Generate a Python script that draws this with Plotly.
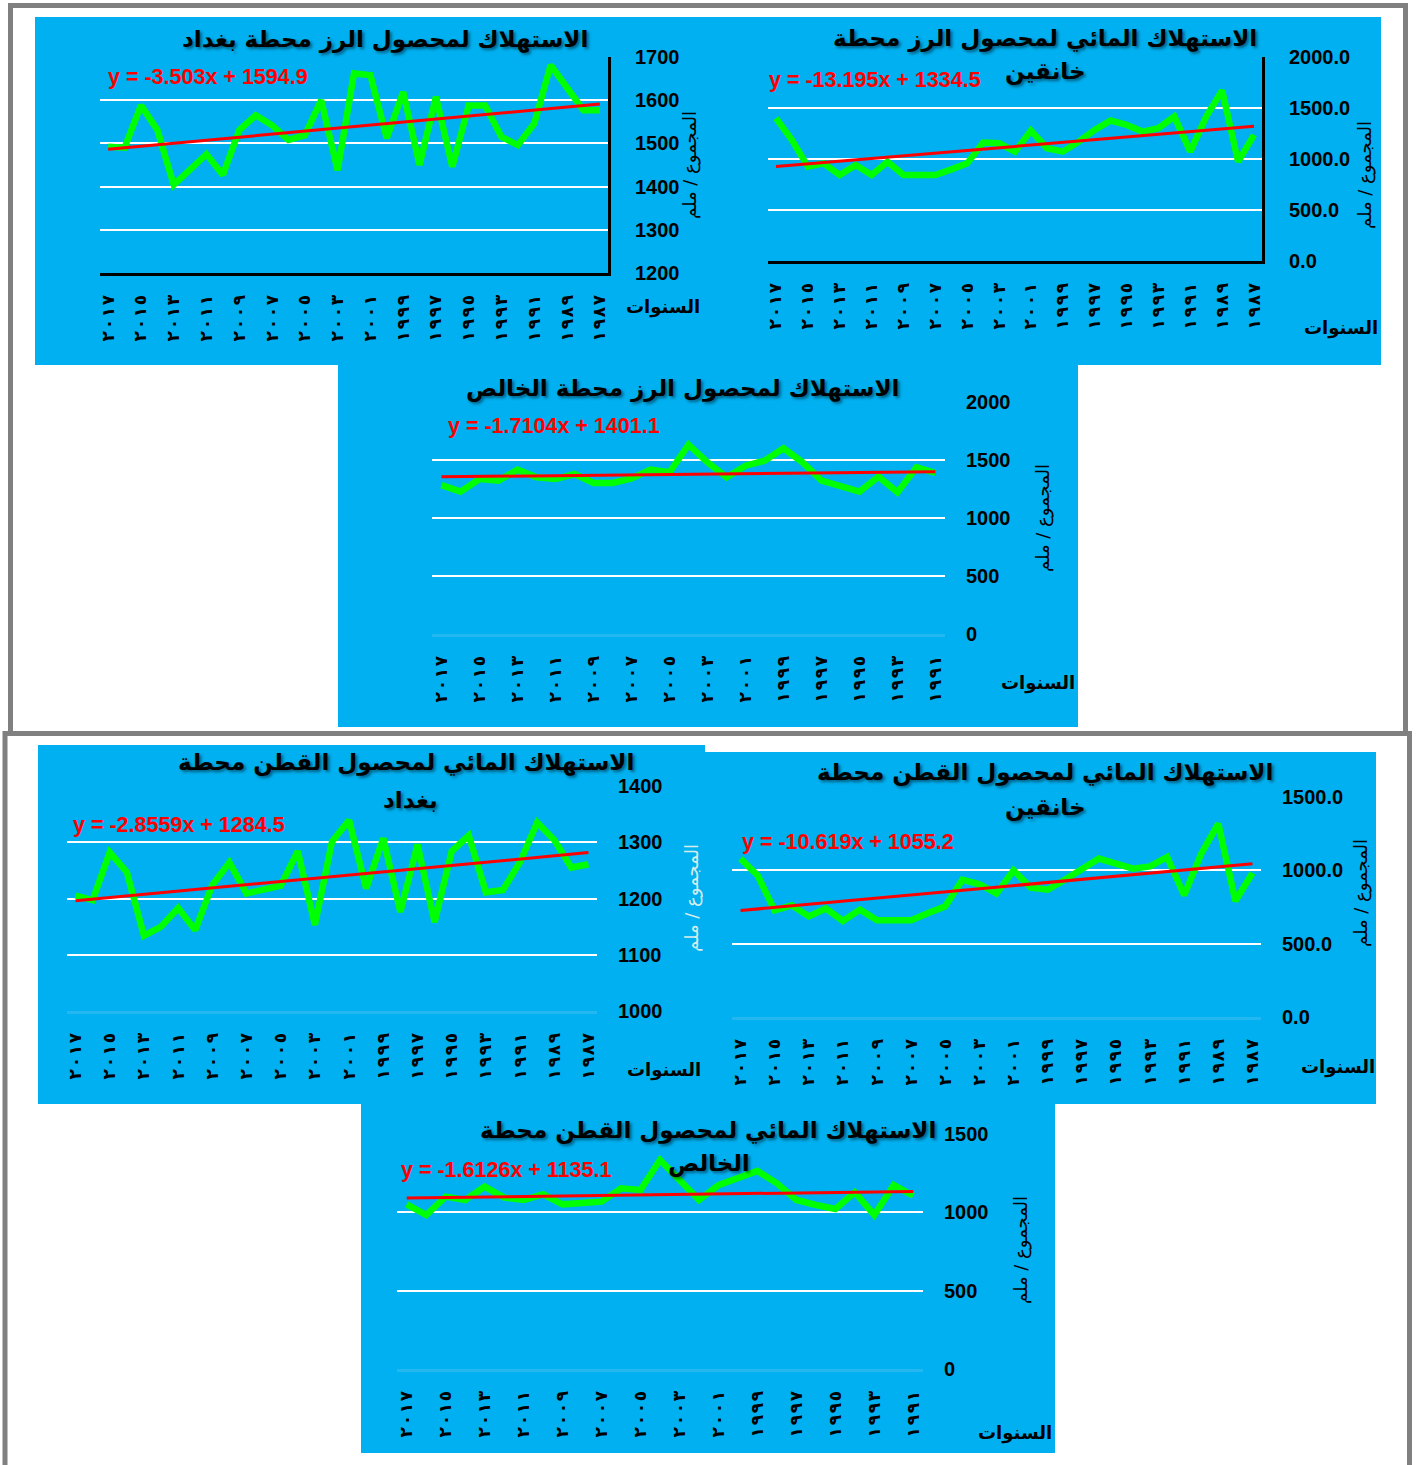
import plotly.graph_objects as go

W, H = 1416, 1465

# ---- categories (years, newest on the left) ----
years_31 = list(range(2017, 1986, -1))   # 2017 .. 1987
years_27 = list(range(2017, 1990, -1))   # 2017 .. 1991
tick_years_31 = list(range(2017, 1986, -2))
tick_years_27 = list(range(2017, 1990, -2))

# ---- water consumption series (mm), ordered 2017 -> first year ----
rice_baghdad = [1492, 1490, 1588, 1531, 1404, 1438, 1475, 1427, 1531, 1565, 1542,
                1508, 1519, 1600, 1438, 1662, 1658, 1512, 1619, 1450, 1608, 1446,
                1588, 1588, 1515, 1496, 1546, 1681, 1627, 1577, 1577]
rice_khanaqin = [1400, 1187, 925, 957, 843, 941, 843, 974, 843, 843, 843,
                 898, 957, 1161, 1154, 1072, 1279, 1105, 1072, 1170, 1285, 1377,
                 1334, 1269, 1302, 1416, 1072, 1416, 1672, 974, 1236]
rice_khalis = [1284, 1227, 1336, 1322, 1417, 1351, 1336, 1379, 1302, 1302, 1342,
               1417, 1394, 1632, 1480, 1351, 1451, 1494, 1601, 1480, 1322, 1273,
               1227, 1356, 1221, 1437, 1388]
cotton_baghdad = [1205, 1197, 1282, 1247, 1134, 1150, 1183, 1144, 1224, 1264, 1209,
                  1217, 1223, 1284, 1153, 1301, 1339, 1218, 1307, 1176, 1296, 1158,
                  1284, 1312, 1211, 1215, 1265, 1335, 1304, 1255, 1261]
cotton_khanaqin = [1080, 966, 727, 761, 686, 739, 655, 732, 659, 659, 659,
                   709, 755, 936, 905, 841, 1000, 882, 868, 936, 1005, 1080,
                   1045, 1011, 1027, 1091, 830, 1114, 1318, 791, 982]
cotton_khalis = [1051, 983, 1100, 1079, 1164, 1094, 1079, 1115, 1051, 1064, 1068,
                 1153, 1143, 1334, 1213, 1079, 1174, 1217, 1264, 1185, 1079, 1047,
                 1021, 1128, 983, 1174, 1106]

# ---- linear trend equations (x = 1 for the earliest year) ----
trend_rice_baghdad = (-3.503, 1594.9)
trend_rice_khanaqin = (-13.195, 1334.5)
trend_rice_khalis = (-1.7104, 1401.1)
trend_cotton_baghdad = (-2.8559, 1284.5)
trend_cotton_khanaqin = (-10.619, 1055.2)
trend_cotton_khalis = (-1.6126, 1135.1)

# ---- text ----
title_rice_baghdad = ["الاستهلاك لمحصول الرز محطة بغداد"]
title_rice_khanaqin = ["الاستهلاك المائي لمحصول الرز محطة", "خانقين"]
title_rice_khalis = ["الاستهلاك لمحصول الرز محطة الخالص"]
title_cotton_baghdad = ["الاستهلاك المائي لمحصول القطن محطة", "بغداد"]
title_cotton_khanaqin = ["الاستهلاك المائي لمحصول القطن محطة", "خانقين"]
title_cotton_khalis = ["الاستهلاك المائي لمحصول القطن محطة", "الخالص"]
y_title = "المجموع / ملم"
x_title = "السنوات"

ARABIC_DIGITS = str.maketrans("0123456789", "٠١٢٣٤٥٦٧٨٩")


def arabic_year(y):
    # Arabic-Indic digits, slightly spaced, kept in left-to-right order
    digits = str(y).translate(ARABIC_DIGITS)
    return "\u202D" + "\u200A".join(digits) + "\u202C"


BLUE = "#00B0F0"
GREEN = "#00FF00"
RED = "#FF0000"
FRAME = "#808080"
NUM_FONT = "Liberation Sans, Arial, sans-serif"
AR_FONT = "DejaVu Sans, sans-serif"

# layout of each chart: plot box in pixels (left, top, right, bottom)
panels = [
    dict(years=years_31, values=rice_baghdad, trend=trend_rice_baghdad, ticks=tick_years_31,
         box=(100, 57, 608, 273), yrange=(1200, 1700), dtick=100, fmt="d", dark_axes=True,
         title=title_rice_baghdad, title_xy=[(385, 40)], eq_xy=(106, 77),
         ytitle_xy=(690, 165), ytitle_color="black", xtitle_xy=(663, 307)),
    dict(years=years_31, values=rice_khanaqin, trend=trend_rice_khanaqin, ticks=tick_years_31,
         box=(768, 57, 1262, 261), yrange=(0, 2000), dtick=500, fmt=".1f", dark_axes=True,
         title=title_rice_khanaqin, title_xy=[(1045, 38), (1045, 72)], eq_xy=(767, 80),
         ytitle_xy=(1365, 175), ytitle_color="black", xtitle_xy=(1341, 328)),
    dict(years=years_27, values=rice_khalis, trend=trend_rice_khalis, ticks=tick_years_27,
         box=(432, 402, 945, 634), yrange=(0, 2000), dtick=500, fmt="d", dark_axes=False,
         title=title_rice_khalis, title_xy=[(682, 388)], eq_xy=(446, 426),
         ytitle_xy=(1043, 518), ytitle_color="black", xtitle_xy=(1038, 683)),
    dict(years=years_31, values=cotton_baghdad, trend=trend_cotton_baghdad, ticks=tick_years_31,
         box=(67, 786, 597, 1011), yrange=(1000, 1400), dtick=100, fmt="d", dark_axes=False,
         title=title_cotton_baghdad, title_xy=[(406, 762), (410, 800)], eq_xy=(71, 825),
         ytitle_xy=(692, 898), ytitle_color="#D6ECEC", xtitle_xy=(664, 1070)),
    dict(years=years_31, values=cotton_khanaqin, trend=trend_cotton_khanaqin, ticks=tick_years_31,
         box=(732, 797, 1261, 1017), yrange=(0, 1500), dtick=500, fmt=".1f", dark_axes=False,
         title=title_cotton_khanaqin, title_xy=[(1045, 773), (1045, 807)], eq_xy=(740, 842),
         ytitle_xy=(1361, 893), ytitle_color="black", xtitle_xy=(1338, 1067)),
    dict(years=years_27, values=cotton_khalis, trend=trend_cotton_khalis, ticks=tick_years_27,
         box=(397, 1134, 923, 1369), yrange=(0, 1500), dtick=500, fmt="d", dark_axes=False,
         title=title_cotton_khalis, title_xy=[(708, 1130), (709, 1163)], eq_xy=(399, 1170),
         ytitle_xy=(1021, 1250), ytitle_color="black", xtitle_xy=(1015, 1433)),
]


def px(x):
    return x / W


def py(y):
    return 1 - y / H


fig = go.Figure()
layout = dict(
    width=W, height=H,
    margin=dict(l=0, r=0, t=0, b=0, pad=0, autoexpand=False),
    paper_bgcolor="white", plot_bgcolor="rgba(0,0,0,0)",
    showlegend=False, shapes=[], annotations=[],
)

# blue chart areas
for (x0, y0, x1, y1) in [(35, 17, 1381, 365), (338, 365, 1078, 727),
                         (38, 745, 705, 1104), (705, 752, 1376, 1104),
                         (361, 1104, 1055, 1453)]:
    layout["shapes"].append(dict(type="rect", xref="paper", yref="paper",
                                 x0=px(x0), x1=px(x1), y0=py(y1), y1=py(y0),
                                 fillcolor=BLUE, line=dict(width=0), layer="below"))
# grey frames around the two groups
for (x0, y0, x1, y1) in [(10.5, 5.5, 1405.5, 733.5), (5, 733.5, 1409.5, 1470)]:
    layout["shapes"].append(dict(type="rect", xref="paper", yref="paper",
                                 x0=px(x0), x1=px(x1), y0=py(y1), y1=py(y0),
                                 fillcolor="rgba(0,0,0,0)", line=dict(color=FRAME, width=5),
                                 layer="below"))

title_font = dict(family=AR_FONT, size=23, color="black", weight="bold",
                  shadow="2px 2px 3px rgba(0,0,0,0.45)")

for i, p in enumerate(panels, start=1):
    sfx = "" if i == 1 else str(i)
    xa, ya = f"x{sfx}", f"y{sfx}"
    years = p["years"]
    first_year = years[-1]
    slope, intercept = p["trend"]
    trend_vals = [slope * (yr - first_year + 1) + intercept for yr in years]

    fig.add_trace(go.Scatter(x=years, y=p["values"], mode="lines", xaxis=xa, yaxis=ya,
                             line=dict(color=GREEN, width=6.5), hoverinfo="skip"))
    fig.add_trace(go.Scatter(x=years, y=trend_vals, mode="lines", xaxis=xa, yaxis=ya,
                             line=dict(color=RED, width=3), hoverinfo="skip"))

    x0, y0, x1, y1 = p["box"]
    axis_color = "black" if p["dark_axes"] else "#22B7F0"
    layout[f"xaxis{sfx}"] = dict(
        domain=[px(x0), px(x1)], anchor=ya, automargin=False,
        range=[years[0] + 0.5, years[-1] - 0.5],
        tickmode="array", tickvals=p["ticks"],
        ticktext=[arabic_year(t) for t in p["ticks"]],
        tickangle=-90, ticks="", ticklabelstandoff=12,
        tickfont=dict(family=AR_FONT, size=17, color="black", weight="bold"),
        showgrid=False, zeroline=False,
        showline=True, linecolor=axis_color, linewidth=3,
        fixedrange=True,
    )
    lo, hi = p["yrange"]
    layout[f"yaxis{sfx}"] = dict(
        domain=[py(y1), py(y0)], anchor=xa, side="right", automargin=False,
        range=[lo, hi], tick0=lo, dtick=p["dtick"], tickformat=p["fmt"],
        ticks="", ticklabelstandoff=20,
        tickfont=dict(family=NUM_FONT, size=20, color="black", weight="bold"),
        showgrid=True, gridcolor="white", gridwidth=2, zeroline=False,
        showline=p["dark_axes"], linecolor="black", linewidth=3,
        fixedrange=True,
    )

    for text, (tx, ty) in zip(p["title"], p["title_xy"]):
        layout["annotations"].append(dict(
            text=text, xref="paper", yref="paper", x=px(tx), y=py(ty),
            xanchor="center", yanchor="middle", showarrow=False, font=title_font))

    ex, ey = p["eq_xy"]
    layout["annotations"].append(dict(
        text=f"y = {slope}x + {intercept}", xref="paper", yref="paper",
        x=px(ex), y=py(ey), xanchor="left", yanchor="middle", showarrow=False,
        font=dict(family=NUM_FONT, size=21.5, color=RED, weight="bold")))

    yx, yy = p["ytitle_xy"]
    layout["annotations"].append(dict(
        text=y_title, xref="paper", yref="paper", x=px(yx), y=py(yy),
        xanchor="center", yanchor="middle", showarrow=False, textangle=-90,
        font=dict(family=AR_FONT, size=18, color=p["ytitle_color"])))

    xx, xy = p["xtitle_xy"]
    layout["annotations"].append(dict(
        text=x_title, xref="paper", yref="paper", x=px(xx), y=py(xy),
        xanchor="center", yanchor="middle", showarrow=False,
        font=dict(family=AR_FONT, size=18, color="black", weight="bold")))

fig.update_layout(**layout)
fig.write_html("out.html")
